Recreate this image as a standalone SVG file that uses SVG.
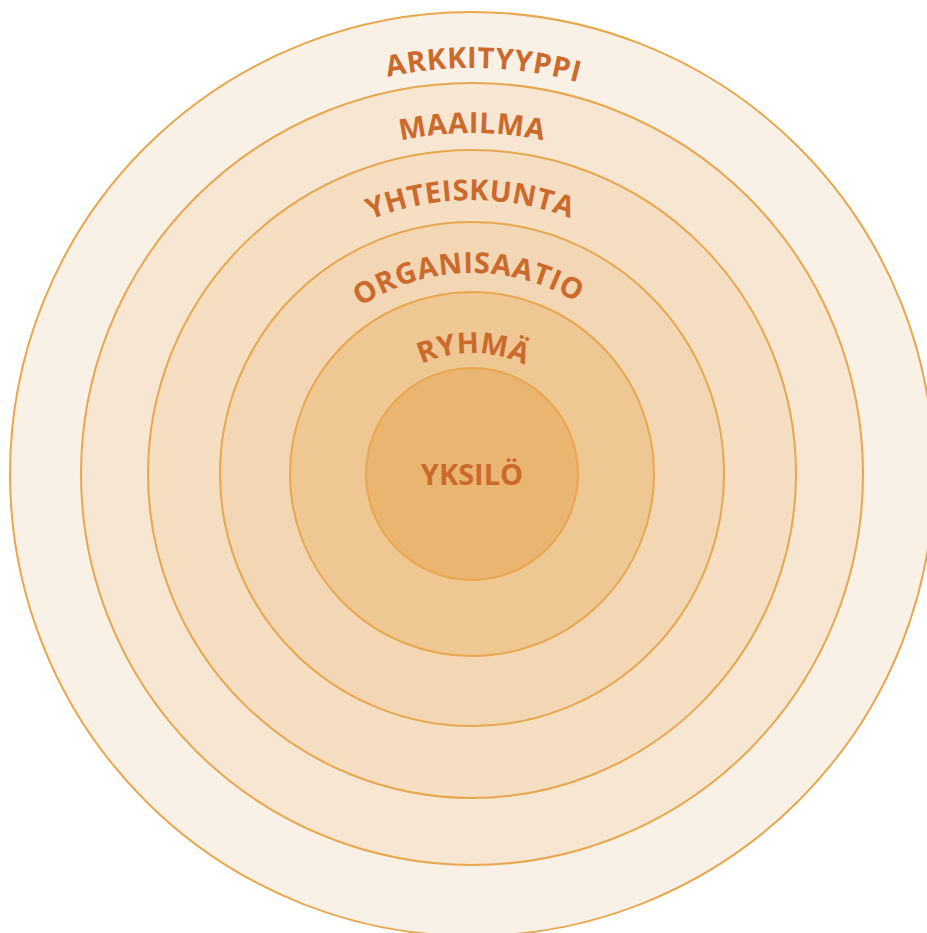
<svg xmlns="http://www.w3.org/2000/svg" width="927" height="933" viewBox="0 0 927 933">
<style>
.ring{stroke:#E8A74F;stroke-width:2}
.lbl{font-family:"Open Sans","Liberation Sans",sans-serif;font-weight:700;font-size:29px;fill:#CC6A2E}
</style>
<defs>
<path id="p1" d="M66,474 A406,406 0 0 1 878,474"/>
<path id="p2" d="M131,474 A341,341 0 0 1 813,474"/>
<path id="p3" d="M198,474 A274,274 0 0 1 746,474"/>
<path id="p4" d="M271,474 A201,201 0 0 1 673,474"/>
<path id="p5" d="M351,474 A121,121 0 0 1 593,474"/>
</defs>
<rect width="927" height="933" fill="#fff"/>
<g id="arkkityyppi">
<circle class="ring" cx="472" cy="474" r="462" fill="#FAF1E6"/>
<text class="lbl" letter-spacing="0.6"><textPath href="#p1" startOffset="50.9%" text-anchor="middle">ARKKITYYPPI</textPath></text>
</g>
<g id="maailma">
<circle class="ring" cx="472" cy="474" r="391" fill="#F7E6D2"/>
<text class="lbl" letter-spacing="0.5"><textPath href="#p2" startOffset="50%" text-anchor="middle">MAAILMA</textPath></text>
</g>
<g id="yhteiskunta">
<circle class="ring" cx="472" cy="474" r="324" fill="#F5DEC2"/>
<text class="lbl" letter-spacing="0.4"><textPath href="#p3" startOffset="49.8%" text-anchor="middle">YHTEISKUNTA</textPath></text>
</g>
<g id="organisaatio">
<circle class="ring" cx="472" cy="474" r="252" fill="#F3D7B4"/>
<text class="lbl" letter-spacing="0.6"><textPath href="#p4" startOffset="49.4%" text-anchor="middle">ORGANISAATIO</textPath></text>
</g>
<g id="ryhma">
<circle class="ring" cx="472" cy="474" r="182" fill="#EEC793"/>
<text class="lbl" letter-spacing="0"><textPath href="#p5" startOffset="50.3%" text-anchor="middle">RYHMÄ</textPath></text>
</g>
<g id="yksilo">
<circle class="ring" cx="472" cy="474" r="106" fill="#EAB570"/>
<text class="lbl" x="472" y="485" text-anchor="middle">YKSILÖ</text>
</g>
</svg>
